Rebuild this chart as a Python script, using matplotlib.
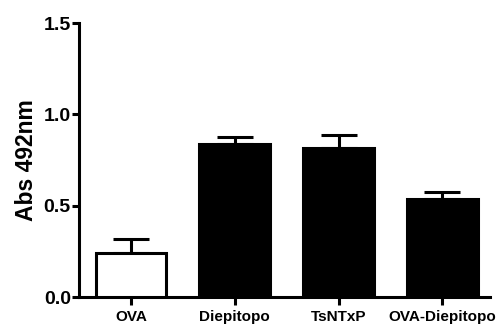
import numpy as np
import matplotlib
matplotlib.use("Agg")
import matplotlib.pyplot as plt

# Absorbance at 492 nm per antigen group (mean + upper SEM)
groups = ["OVA", "Diepitopo", "TsNTxP", "OVA-Diepitopo"]
means = [0.24, 0.84, 0.815, 0.535]
sem = [0.08, 0.035, 0.07, 0.04]
fills = ["white", "black", "black", "black"]

plt.rcParams['font.family'] = ['Liberation Sans', 'DejaVu Sans']
plt.rcParams['font.weight'] = 'bold'

fig = plt.figure(figsize=(5.01, 3.29), dpi=100)
ax = fig.add_axes([0.158, 0.097, 0.82, 0.833])

x = np.arange(len(groups))
lw = 2.2
ax.bar(x, means, width=0.68, color=fills, edgecolor="black", linewidth=lw, zorder=3)
ax.errorbar(x, means, yerr=[np.zeros(len(sem)), sem], fmt="none", ecolor="black",
            elinewidth=lw, capsize=13, capthick=lw, zorder=2)

ax.set_xlim(-0.5, 3.46)
ax.set_ylim(0, 1.5)
ax.set_yticks([0.0, 0.5, 1.0, 1.5])
ax.set_yticklabels(["0.0", "0.5", "1.0", "1.5"], fontsize=14, fontweight='bold')
ax.set_xticks(x)
ax.set_xticklabels(groups, fontsize=11, fontweight='bold')
ax.set_ylabel("Abs 492nm", fontsize=16.5, fontweight='bold', labelpad=4)

for side in ["top", "right"]:
    ax.spines[side].set_visible(False)
for side in ["left", "bottom"]:
    ax.spines[side].set_linewidth(lw)
ax.tick_params(axis="both", width=lw, length=5, direction="out")
ax.tick_params(axis="x", length=6, pad=3)
ax.tick_params(axis="y", pad=1)

fig.savefig("out.png", dpi=100)
